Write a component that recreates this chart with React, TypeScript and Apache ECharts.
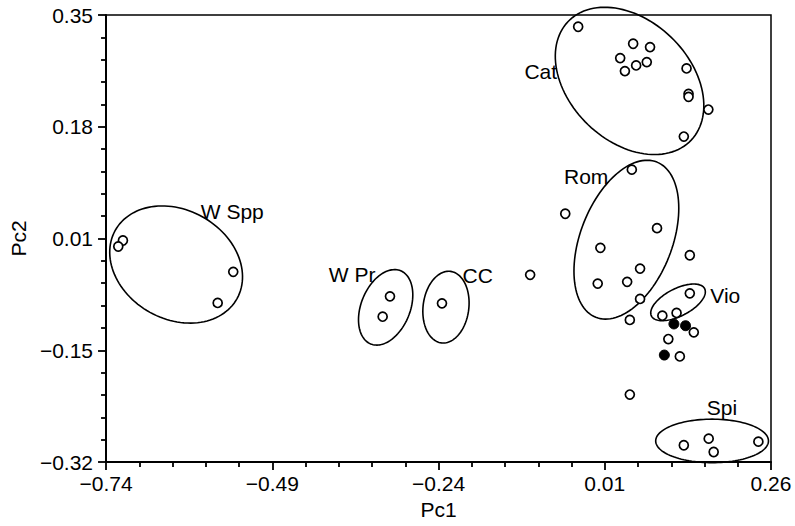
import React, { useEffect, useRef } from "react";
import * as echarts from "echarts";

// Tick labels (equally spaced display ticks)
const xTickLabels = ["−0.74", "−0.49", "−0.24", "0.01", "0.26"];
const yTickLabels = ["−0.32", "−0.15", "0.01", "0.18", "0.35"];

// Open-circle points [Pc1, Pc2]
const catPoints = [
  [-0.030, 0.3324], [0.0527, 0.3069], [0.0781, 0.3019], [0.0332, 0.2854],
  [0.0572, 0.2744], [0.0732, 0.2794], [0.0403, 0.2659], [0.1330, 0.2699],
  [0.1360, 0.2318], [0.1360, 0.2273], [0.1658, 0.2083], [0.1289, 0.1678],
];
const romPoints = [
  [0.0507, 0.1182], [0.0886, 0.0305], [0.0034, 0.0010], [0.1379, -0.0101],
  [0.0631, -0.0301], [-0.0006, -0.0526], [0.0437, -0.0500], [0.0631, -0.0756],
  [0.0477, -0.1071],
];
const otherPoints = [
  [-0.0494, 0.0521], [-0.1022, -0.0395], [0.1056, -0.1357], [0.1229, -0.1618],
  [0.0477, -0.2189],
];
const vioPoints = [
  [0.1379, -0.0672], [0.0966, -0.1007], [0.1180, -0.0966], [0.1439, -0.1257],
];
const spiPoints = [
  [0.1289, -0.2949], [0.1663, -0.2850], [0.1738, -0.3050], [0.2410, -0.2895],
];
const wSppPoints = [
  [-0.7146, 0.0120], [-0.7216, 0.0030], [-0.5487, -0.0350], [-0.5721, -0.0816],
];
const wPrPoints = [[-0.3130, -0.0717], [-0.3240, -0.1022]];
const ccPoints = [[-0.2348, -0.0822]];

// Filled points
const filledPoints = [[0.1140, -0.1131], [0.1315, -0.1157], [0.0996, -0.1597]];

// Group ellipses: centre and two conjugate semi-axis vectors, in data units
const ellipseNames = ["W Spp", "W Pr", "CC", "Cat", "Rom", "Vio", "Spi"];
const ellipseCentres = [
  [-0.6346, -0.0240], [-0.3195, -0.0882], [-0.2288, -0.0879], [0.0473, 0.2512],
  [0.0425, 0.0132], [0.1202, -0.0807], [0.1714, -0.2884],
];
const ellipseAxisU = [
  [0.0918, -0.0507], [0.0226, 0.0548], [0.0069, 0.0536], [0.0927, -0.0887],
  [0.0460, 0.1163], [0.0400, 0.0205], [0.0848, 0],
];
const ellipseAxisV = [
  [-0.0393, -0.0717], [0.0340, -0.0141], [0.0341, -0.0044], [-0.0623, -0.0657],
  [0.0640, -0.0256], [0.0093, -0.0183], [0, -0.0326],
];
// Group label anchors, in data units
const labelAnchors = [
  [-0.5502, 0.0556], [-0.3700, -0.0391], [-0.1810, -0.0406], [-0.0863, 0.2648],
  [-0.0180, 0.1086], [0.1912, -0.0706], [0.1863, -0.2384],
];

const FONT = '"Liberation Sans", Arial, Helvetica, sans-serif';

export default function App() {
  const ref = useRef<HTMLDivElement>(null);
  useEffect(() => {
    if (!ref.current) return;
    const chart = echarts.init(ref.current, undefined, { renderer: "svg" });
    const openPoints = [
      ...catPoints, ...romPoints, ...otherPoints, ...vioPoints,
      ...spiPoints, ...wSppPoints, ...wPrPoints, ...ccPoints,
    ];
    const ellipseData = ellipseCentres.map((c, i) => [
      c[0], c[1], ellipseAxisU[i][0], ellipseAxisU[i][1], ellipseAxisV[i][0], ellipseAxisV[i][1],
    ]);
    const labelData = labelAnchors.map((p, i) => ({ name: ellipseNames[i], value: p }));
    const axisLine = { show: true, lineStyle: { color: "#000", width: 2 } };
    const tickStyle = { color: "#000", width: 1.8 };
    const labelStyle = { color: "#000", fontSize: 21, fontFamily: FONT };
    const option: any = {
      animation: false,
      backgroundColor: "#fff",
      grid: {
        left: 102, right: 24, top: 15, bottom: 64,
        show: true, borderColor: "#000", borderWidth: 1.5, backgroundColor: "transparent",
      },
      xAxis: [
        {
          type: "value", min: -0.74, max: 0.26, show: true,
          axisLine: { show: false }, axisTick: { show: false }, axisLabel: { show: false },
          splitLine: { show: false },
        },
        {
          type: "value", min: 0, max: 4, interval: 1, position: "bottom",
          axisLine, axisTick: { show: true, length: 8, lineStyle: tickStyle },
          minorTick: { show: true, splitNumber: 5, length: 5, lineStyle: tickStyle },
          axisLabel: { ...labelStyle, margin: 11, formatter: (v: number) => xTickLabels[Math.round(v)] },
          splitLine: { show: false },
          name: "Pc1", nameLocation: "middle", nameGap: 34,
          nameTextStyle: { ...labelStyle },
        },
      ],
      yAxis: [
        {
          type: "value", min: -0.32, max: 0.35, show: true,
          axisLine: { show: false }, axisTick: { show: false }, axisLabel: { show: false },
          splitLine: { show: false },
        },
        {
          type: "value", min: 0, max: 4, interval: 1, position: "left",
          axisLine, axisTick: { show: true, length: 8, lineStyle: tickStyle },
          minorTick: { show: true, splitNumber: 5, length: 5, lineStyle: tickStyle },
          axisLabel: { ...labelStyle, margin: 13, formatter: (v: number) => yTickLabels[Math.round(v)] },
          splitLine: { show: false },
          name: "Pc2", nameLocation: "middle", nameGap: 68, nameRotate: 90,
          nameTextStyle: { ...labelStyle },
        },
      ],
      series: [
        {
          type: "custom",
          xAxisIndex: 0, yAxisIndex: 0,
          clip: false,
          z: 2,
          data: ellipseData,
          renderItem: (_params: any, api: any) => {
            const cx = api.value(0), cy = api.value(1);
            const ux = api.value(2), uy = api.value(3);
            const vx = api.value(4), vy = api.value(5);
            const pts: number[][] = [];
            const n = 120;
            for (let i = 0; i < n; i++) {
              const t = (i / n) * Math.PI * 2;
              const c = Math.cos(t), s = Math.sin(t);
              pts.push(api.coord([cx + ux * c + vx * s, cy + uy * c + vy * s]));
            }
            return {
              type: "polygon",
              shape: { points: pts },
              style: { fill: "none", stroke: "#000", lineWidth: 1.6 },
            };
          },
        },
        {
          type: "scatter",
          xAxisIndex: 0, yAxisIndex: 0,
          data: labelData,
          symbolSize: 0,
          z: 3,
          itemStyle: { opacity: 1 },
          label: {
            show: true, position: "inside", formatter: "{b}",
            color: "#000", fontSize: 21, fontFamily: FONT,
          },
        },
        {
          type: "scatter",
          xAxisIndex: 0, yAxisIndex: 0,
          data: openPoints,
          symbol: "circle", symbolSize: 9,
          z: 4,
          itemStyle: { color: "#fff", borderColor: "#000", borderWidth: 1.7, opacity: 1 },
        },
        {
          type: "scatter",
          xAxisIndex: 0, yAxisIndex: 0,
          data: filledPoints,
          symbol: "circle", symbolSize: 10,
          z: 5,
          itemStyle: { color: "#000", borderColor: "#000", borderWidth: 1, opacity: 1 },
        },
      ],
    };
    chart.setOption(option);
    return () => chart.dispose();
  }, []);
  return (
    <div
      ref={ref}
      style={{ position: "absolute", left: 0, top: 0, width: 795, height: 526, background: "#fff" }}
    />
  );
}
